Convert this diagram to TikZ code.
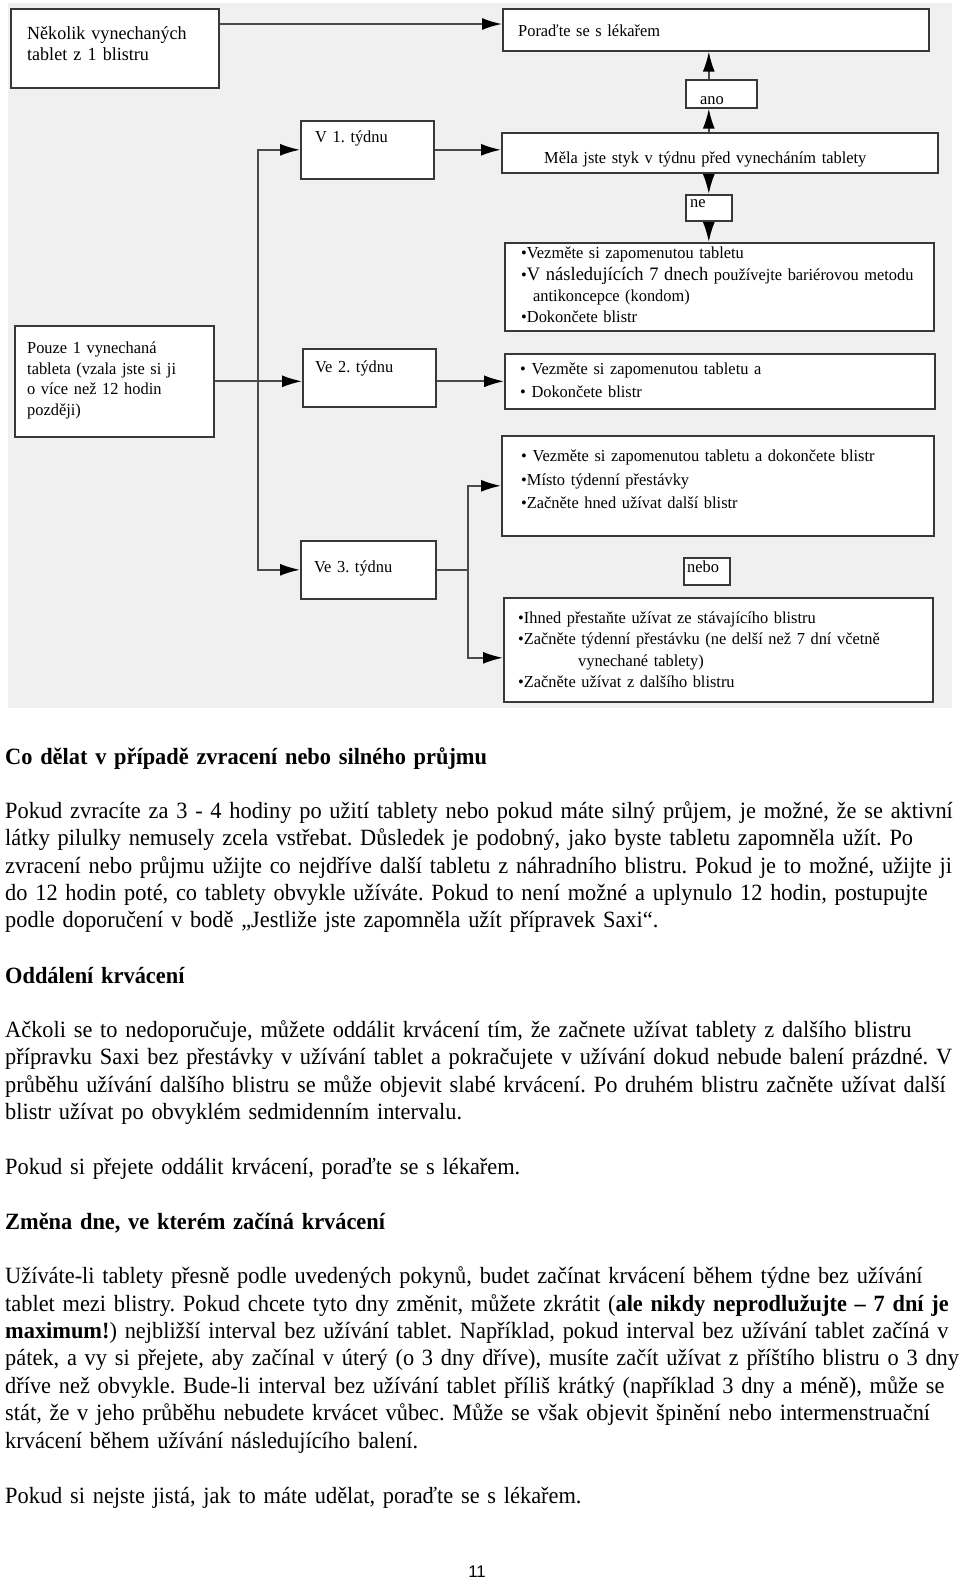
\documentclass[tikz,border=0pt]{standalone}
\usepackage{fontspec}
\setmainfont{Liberation Serif}[FakeStretch=0.96]
\newfontfamily\boxfont{Liberation Serif}[FakeStretch=0.975]
\newfontfamily\pagenum{Liberation Sans}
\usetikzlibrary{arrows.meta,calc}
\definecolor{panel}{HTML}{F0F0F0}
\definecolor{frame}{HTML}{383838}
\definecolor{wire}{HTML}{4A4A4A}
\frenchspacing

\begin{document}
\begin{tikzpicture}[x=1pt,y=-1pt,inner sep=0pt]
    \tikzstyle{card}=[rectangle,draw=frame,fill=white,line width=1.6pt,anchor=north west]
    \tikzstyle{arr}=[draw=wire,line width=1.8pt,-{Latex[length=20pt,width=12pt,color=black]}]
    \tikzstyle{note}=[anchor=north west,text width=430pt,font=\boxfont\fontsize{16.8}{21.3}\selectfont,execute at begin node={\rule{0pt}{13.5pt}}]
    \tikzstyle{body}=[anchor=north west,text width=1100pt,font=\fontsize{23.3}{27.4}\selectfont,execute at begin node={\rule{0pt}{19pt}}]

    \useasboundingbox (0,0) rectangle (960,1580);
    \fill[white] (0,0) rectangle (960,1580);
    \fill[panel] (8,3) rectangle (952,708);

    \foreach \n/\x/\y/\w/\h in {nekolik/10/8/208/79, poradte/502/8/426/42, ano/685/79/71/28,
        mela/501/132/436/40, ne/685/194/46/26, tyd1/300/120/133/58, krok1/504/242/429/88,
        pouze/14/325/199/111, tyd2/302/348/133/58, krok2/504/353/430/55, krok3/501/435/432/100,
        nebo/683/557/46/27, tyd3/300/540/135/58, krok4/503/597/429/104} {
        \node[card,minimum width=\w,minimum height=\h] (\n) at (\x,\y) {};
    };

    \coordinate (top) at ($(nekolik.north east)+(0,16)$);
    \draw[arr] (top) -- (top -| poradte.west);
    \draw[arr] (ano.north -| ne) -- (poradte.south -| ne);
    \draw[arr] (mela.north -| ne) -- (ano.south -| ne);
    \draw[arr] (mela.south -| ne) -- (ne.north);
    \draw[arr] (ne.south) -- (krok1.north -| ne);
    \draw[arr] (tyd1.east) -- (tyd1.east -| mela.west);

    \coordinate (split) at ($(pouze.east)!0.5!(tyd2.west)$);
    \draw[arr] (pouze.east) -- (pouze.east -| tyd2.west);
    \draw[arr] (split) |- (tyd1.west);
    \draw[arr] (split) |- (tyd3.west);
    \draw[arr] (krok2.west -| tyd2.east) -- (krok2.west);

    \coordinate (brk) at ($(tyd3.east)+(31,0)$);
    \draw[draw=wire,line width=1.8pt] (tyd3.east) -- (brk);
    \draw[arr] (brk) |- (krok3.west);
    \draw[arr] (brk) |- ($(krok4.west)+(0,8)$);

    \node[note,font=\boxfont\fontsize{18.5}{21}\selectfont] (nekolikT) at (27,25.5) {Několik vynechaných\\tablet z 1 blistru};
    \node[note] (poradteT) at (518,23) {Poraďte se s lékařem};
    \node[note] (anoT) at (700,91) {ano};
    \node[note] (melaT) at (544,150) {Měla jste styk v týdnu před vynecháním tablety};
    \node[note] (neT) at (690,194) {ne};
    \node[note] (tyd1T) at (315,129) {V 1. týdnu};
    \node[note] (krok1T) at (521,245) {•Vezměte si zapomenutou tabletu\\•{\fontsize{19}{21.3}\selectfont V následujících 7 dnech} používejte bariérovou metodu\\\hspace*{12pt}antikoncepce (kondom)\\•Dokončete blistr};
    \node[note,font=\boxfont\fontsize{16.8}{20.6}\selectfont] (pouzeT) at (27,340) {Pouze 1 vynechaná\\tableta (vzala jste si ji\\o více než 12 hodin\\později)};
    \node[note] (tyd2T) at (315,359) {Ve 2. týdnu};
    \node[note,font=\boxfont\fontsize{16.8}{23}\selectfont] (krok2T) at (520,361) {• Vezměte si zapomenutou tabletu a\\• Dokončete blistr};
    \node[note,font=\boxfont\fontsize{16.8}{23.5}\selectfont] (krok3T) at (521,448) {• Vezměte si zapomenutou tabletu a dokončete blistr\\•Místo týdenní přestávky\\•Začněte hned užívat další blistr};
    \node[note] (neboT) at (687,559) {nebo};
    \node[note] (tyd3T) at (314,559) {Ve 3. týdnu};
    \node[note,font=\boxfont\fontsize{16.8}{21.5}\selectfont] (krok4T) at (518,609.5) {•Ihned přestaňte užívat ze stávajícího blistru\\•Začněte týdenní přestávku (ne delší než 7 dní včetně\\\hspace*{60pt}vynechané tablety)\\•Začněte užívat z dalšího blistru};

    \node[body,font=\fontsize{23.3}{27.4}\selectfont\bfseries] (h1) at (5,745) {Co dělat v případě zvracení nebo silného průjmu};
    \node[body] (p1) at (5,799) {Pokud zvracíte za 3 - 4 hodiny po užití tablety nebo pokud máte silný průjem, je možné, že se aktivní\\
        látky pilulky nemusely zcela vstřebat. Důsledek je podobný, jako byste tabletu zapomněla užít. Po\\
        zvracení nebo průjmu užijte co nejdříve další tabletu z náhradního blistru. Pokud je to možné, užijte ji\\
        do 12 hodin poté, co tablety obvykle užíváte. Pokud to není možné a uplynulo 12 hodin, postupujte\\
        podle doporučení v bodě „Jestliže jste zapomněla užít přípravek Saxi“.};
    \node[body,font=\fontsize{23.3}{27.4}\selectfont\bfseries] (h2) at (5,964) {Oddálení krvácení};
    \node[body] (p2) at (5,1018) {Ačkoli se to nedoporučuje, můžete oddálit krvácení tím, že začnete užívat tablety z dalšího blistru\\
        přípravku Saxi bez přestávky v užívání tablet a pokračujete v užívání dokud nebude balení prázdné. V\\
        průběhu užívání dalšího blistru se může objevit slabé krvácení. Po druhém blistru začněte užívat další\\
        blistr užívat po obvyklém sedmidenním intervalu.};
    \node[body] (p3) at (5,1155) {Pokud si přejete oddálit krvácení, poraďte se s lékařem.};
    \node[body,font=\fontsize{23.3}{27.4}\selectfont\bfseries] (h3) at (5,1210) {Změna dne, ve kterém začíná krvácení};
    \node[body] (p4) at (5,1264.5) {Užíváte-li tablety přesně podle uvedených pokynů, budet začínat krvácení během týdne bez užívání\\
        tablet mezi blistry. Pokud chcete tyto dny změnit, můžete zkrátit (\textbf{ale nikdy neprodlužujte – 7 dní je}\\
        \textbf{maximum!}) nejbližší interval bez užívání tablet. Například, pokud interval bez užívání tablet začíná v\\
        pátek, a vy si přejete, aby začínal v úterý (o 3 dny dříve), musíte začít užívat z příštího blistru o 3 dny\\
        dříve než obvykle. Bude-li interval bez užívání tablet příliš krátký (například 3 dny a méně), může se\\
        stát, že v jeho průběhu nebudete krvácet vůbec. Může se však objevit špinění nebo intermenstruační\\
        krvácení během užívání následujícího balení.};
    \node[body] (p5) at (5,1484) {Pokud si nejste jistá, jak to máte udělat, poraďte se s lékařem.};

    \node[font=\pagenum\fontsize{16.8}{20}\selectfont,anchor=base] (strana) at (477,1577) {11};
\end{tikzpicture}
\end{document}
